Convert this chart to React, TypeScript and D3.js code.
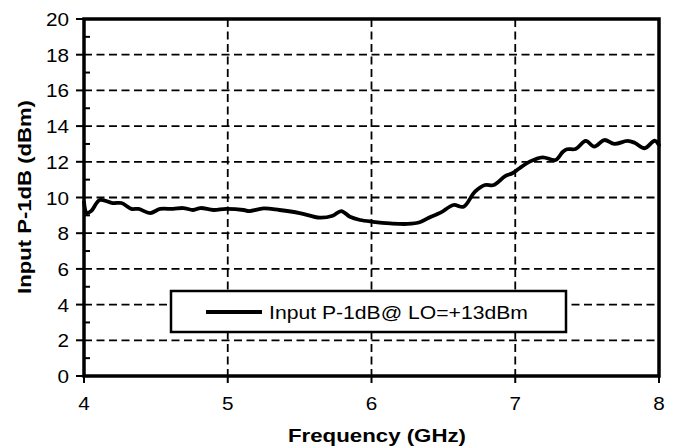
import React from "react";
import * as d3 from "d3";

const freqGHz = [4.0, 4.02, 4.05, 4.11, 4.2, 4.26, 4.33, 4.38, 4.46, 4.53, 4.62, 4.69, 4.76, 4.81, 4.9, 4.99, 5.11, 5.15, 5.25, 5.36, 5.5, 5.64, 5.73, 5.79, 5.85, 5.92, 6.01, 6.13, 6.25, 6.34, 6.41, 6.48, 6.57, 6.64, 6.72, 6.79, 6.85, 6.93, 6.98, 7.03, 7.1, 7.19, 7.28, 7.33, 7.36, 7.42, 7.49, 7.55, 7.62, 7.69, 7.78, 7.83, 7.9, 7.97, 8.0];
const p1dB = [9.75, 9.13, 9.24, 9.86, 9.69, 9.69, 9.36, 9.36, 9.13, 9.36, 9.36, 9.41, 9.3, 9.41, 9.3, 9.36, 9.3, 9.24, 9.39, 9.3, 9.13, 8.87, 8.98, 9.24, 8.92, 8.74, 8.64, 8.55, 8.52, 8.63, 8.91, 9.15, 9.58, 9.48, 10.33, 10.7, 10.7, 11.2, 11.36, 11.64, 12.01, 12.25, 12.1, 12.55, 12.7, 12.72, 13.17, 12.85, 13.22, 13.0, 13.17, 13.07, 12.76, 13.18, 12.94];

const xTicks = [4, 5, 6, 7, 8];
const yTicks = [0, 2, 4, 6, 8, 10, 12, 14, 16, 18, 20];
const yMinorTicks = [1, 3, 5, 7, 9, 11, 13, 15, 17, 19];
const xLabel = "Frequency (GHz)";
const yLabel = "Input P-1dB (dBm)";
const legendLabel = "Input P-1dB@ LO=+13dBm";

const FONT = "'Liberation Sans', Arial, sans-serif";
const SX = 1.15;

export default function App() {
  const x = d3.scaleLinear().domain([4, 8]).range([84, 659]);
  const y = d3.scaleLinear().domain([0, 20]).range([376, 19]);
  const pts: [number, number][] = freqGHz.map((f, i) => [f, p1dB[i]]);
  const line = d3
    .line<[number, number]>()
    .x((d) => x(d[0]))
    .y((d) => y(d[1]))
    .curve(d3.curveCatmullRom.alpha(0.5));

  const gridX = xTicks.filter((t) => t !== 4 && t !== 8);
  const gridY = yTicks.filter((t) => t !== 0 && t !== 20);

  const txt = (
    key: string,
    tx: number,
    ty: number,
    s: string,
    anchor: string,
    size: number,
    weight = "normal"
  ) => (
    <text
      key={key}
      transform={`translate(${tx},${ty}) scale(${SX},1)`}
      textAnchor={anchor}
      fontFamily={FONT}
      fontSize={size}
      fontWeight={weight}
      fill="#000"
    >
      {s}
    </text>
  );

  return (
    <svg
      width={681}
      height={446}
      style={{ position: "absolute", left: 0, top: 0, background: "#fff" }}
    >
      <rect x={0} y={0} width={681} height={446} fill="#fff" />
      {/* grid */}
      <g stroke="#000" strokeWidth={1.8} strokeDasharray="8,4.5">
        {gridY.map((t) => (
          <line key={"gy" + t} x1={x(4)} x2={x(8)} y1={y(t)} y2={y(t)} />
        ))}
        {gridX.map((t) => (
          <line key={"gx" + t} x1={x(t)} x2={x(t)} y1={y(20)} y2={y(0)} />
        ))}
      </g>
      {/* ticks */}
      <g stroke="#000" strokeWidth={2}>
        {yTicks.map((t) => (
          <line key={"yt" + t} x1={x(4) - 8} x2={x(4)} y1={y(t)} y2={y(t)} />
        ))}
        {yMinorTicks.map((t) => (
          <line key={"ym" + t} x1={x(4)} x2={x(4) + 6} y1={y(t)} y2={y(t)} />
        ))}
        {xTicks.map((t) => (
          <line key={"xt" + t} x1={x(t)} x2={x(t)} y1={y(0)} y2={y(0) + 7} />
        ))}
      </g>
      {/* legend */}
      <rect x={171} y={291} width={395} height={41} fill="#fff" stroke="#000" strokeWidth={2.5} />
      <line x1={206} x2={262} y1={312} y2={312} stroke="#000" strokeWidth={3.8} />
      <text
        x={269}
        y={319}
        fontFamily={FONT}
        fontSize={18.5}
        textLength={259}
        lengthAdjust="spacingAndGlyphs"
        fill="#000"
      >
        {legendLabel}
      </text>
      {/* data line */}
      <path d={line(pts) || ""} fill="none" stroke="#000" strokeWidth={3.8} strokeLinejoin="round" strokeLinecap="round" />
      {/* frame */}
      <rect x={x(4)} y={y(20)} width={x(8) - x(4)} height={y(0) - y(20)} fill="none" stroke="#000" strokeWidth={3.5} />
      {/* tick labels */}
      {yTicks.map((t) => txt("yl" + t, 69, y(t) + 7, String(t), "end", 18))}
      {xTicks.map((t) => txt("xl" + t, x(t), 410, String(t), "middle", 18))}
      {/* axis titles */}
      <text
        x={377}
        y={442}
        textAnchor="middle"
        fontFamily={FONT}
        fontSize={18.5}
        fontWeight="bold"
        textLength={178}
        lengthAdjust="spacingAndGlyphs"
        fill="#000"
      >
        {xLabel}
      </text>
      <text
        transform={`translate(31,197) rotate(-90)`}
        textAnchor="middle"
        fontFamily={FONT}
        fontSize={18.5}
        fontWeight="bold"
        textLength={194}
        lengthAdjust="spacingAndGlyphs"
        fill="#000"
      >
        {yLabel}
      </text>
    </svg>
  );
}
